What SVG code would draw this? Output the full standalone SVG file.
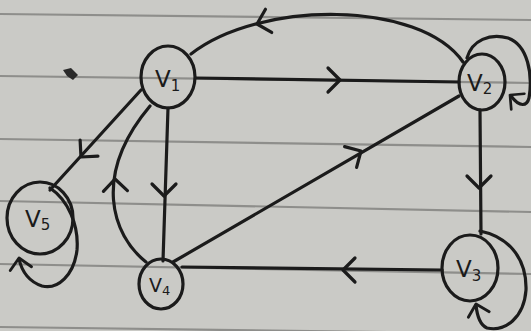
<svg xmlns="http://www.w3.org/2000/svg" xmlns:xlink="http://www.w3.org/1999/xlink" width="531" height="331" viewBox="0 0 531 331">
<style>
.ink{fill:none;stroke:#1b1b1b;stroke-width:3.2;stroke-linecap:round;stroke-linejoin:round}
.node{fill:none;stroke:#1b1b1b;stroke-width:3.2}
.rule{stroke:#8e8e8b;stroke-width:2.2;fill:none}
.lbl{font-family:"DejaVu Sans","Liberation Sans",sans-serif;font-size:23px;fill:#1b1b1b}
.sub{font-size:15px}
</style>
<defs>
<path id="chev" class="ink" d="M-12,-12 L0,0 L-12,12"/>
</defs>
<rect x="0" y="0" width="531" height="331" fill="#cacac6"/>
<g id="paper-lines">
<path class="rule" d="M0,14 L531,20"/>
<path class="rule" d="M0,76 L531,83"/>
<path class="rule" d="M0,139 L531,147"/>
<path class="rule" d="M0,201 L531,212"/>
<path class="rule" d="M0,264 L531,274"/>
<path class="rule" d="M0,327 L531,334"/>
</g>
<path d="M63,70 L71,68 L78,75 L73,80 L67,76 Z" fill="#2a2a2a"/>
<g id="connectors">
<path class="ink" d="M196,78 L459,82"/>
<use href="#chev" transform="translate(340,80)"/>
<path class="ink" d="M463,62 C420,0 260,0 191,54"/>
<use href="#chev" transform="translate(257,24) rotate(165)"/>
<path class="ink" d="M467,58 C472,40 490,33 508,38 C528,45 533,75 529,98 C527,106 520,108 511,96"/>
<use href="#chev" transform="translate(510,95) rotate(-140) scale(0.85)"/>
<path class="ink" d="M480,110 L481,234"/>
<use href="#chev" transform="translate(479,188) rotate(90)"/>
<path class="ink" d="M480,231 C505,236 527,255 526,290 C524,318 505,332 487,328 C480,325 477,315 476,305"/>
<use href="#chev" transform="translate(476,304) rotate(-105) scale(0.9)"/>
<path class="ink" d="M442,270 L182,267"/>
<use href="#chev" transform="translate(343,270) rotate(180)"/>
<path class="ink" d="M173,262 L459,96"/>
<use href="#chev" transform="translate(361,151) rotate(-30)"/>
<path class="ink" d="M168,108 L163,261"/>
<use href="#chev" transform="translate(164,196) rotate(90)"/>
<path class="ink" d="M146,262 C112,235 92,175 150,106"/>
<use href="#chev" transform="translate(115,179) rotate(-92)"/>
<path class="ink" d="M141,90 L50,190"/>
<use href="#chev" transform="translate(81,157) rotate(132)"/>
<path class="ink" d="M50,188 C68,200 79,225 77,250 C74,275 58,290 42,286 C30,282 22,272 19,259"/>
<use href="#chev" transform="translate(19,258) rotate(-100) scale(0.9)"/>
</g>
<g id="v1">
<ellipse class="node" cx="168" cy="77" rx="27" ry="31"/>
<text class="lbl" x="155" y="87">V<tspan class="sub" dy="4">1</tspan></text>
</g>
<g id="v2">
<ellipse class="node" cx="482" cy="82" rx="23" ry="28"/>
<text class="lbl" x="467" y="91">V<tspan class="sub" dy="3">2</tspan></text>
</g>
<g id="v3">
<ellipse class="node" cx="470" cy="268" rx="28" ry="33"/>
<text class="lbl" x="456" y="277">V<tspan class="sub" dy="4">3</tspan></text>
</g>
<g id="v4">
<ellipse class="node" cx="161" cy="284" rx="22" ry="25"/>
<text class="lbl" x="149" y="292" style="font-size:19px">V<tspan class="sub" style="font-size:13px" dy="3">4</tspan></text>
</g>
<g id="v5">
<ellipse class="node" cx="40" cy="218" rx="33" ry="36"/>
<text class="lbl" x="25" y="227">V<tspan class="sub" dy="3">5</tspan></text>
</g>
</svg>
